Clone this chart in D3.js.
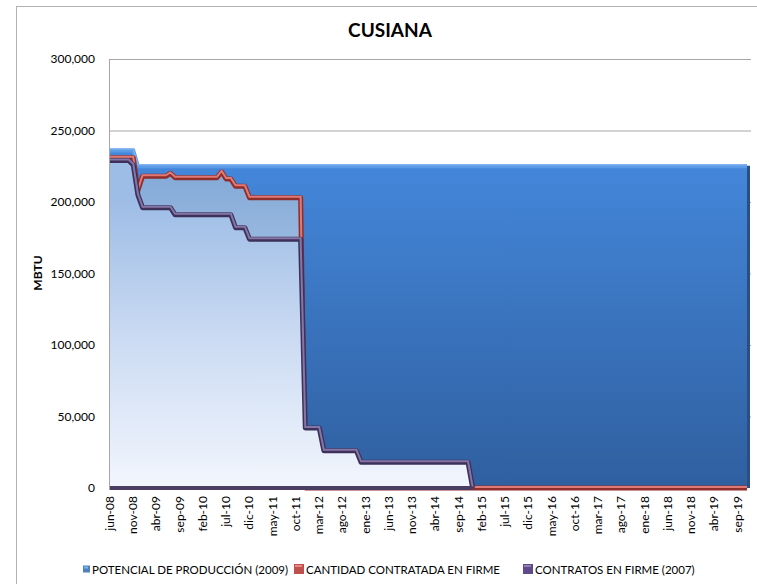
<!DOCTYPE html>
<html>
<head>
<meta charset="utf-8">
<script src="https://cdn.jsdelivr.net/npm/d3@7"></script>
<style>
  body { margin: 0; background: #fff; }
  text { font-family: Lato, "Open Sans", sans-serif; fill: #000; }
</style>
</head>
<body>
<div id="chart"></div>
<script>
// month abbreviations used for the category axis (jun-08 .. nov-19)
const mesesAbrev = ["ene","feb","mar","abr","may","jun","jul","ago","sep","oct","nov","dic"];
const yTicks = [0, 50000, 100000, 150000, 200000, 250000, 300000];

// POTENCIAL DE PRODUCCIÓN (2009), one value per month from jun-08
const potencial = [
  237000,237000,237000,237000,237000,237000,226000,
  226000,226000,226000,226000,226000,226000,226000,226000,226000,226000,226000,226000,
  226000,226000,226000,226000,226000,226000,226000,226000,226000,226000,226000,226000,
  226000,226000,226000,226000,226000,226000,226000,226000,226000,226000,226000,226000,
  226000,226000,226000,226000,226000,226000,226000,226000,226000,226000,226000,226000,
  226000,226000,226000,226000,226000,226000,226000,226000,226000,226000,226000,226000,
  226000,226000,226000,226000,226000,226000,226000,226000,226000,226000,226000,226000,
  226000,226000,226000,226000,226000,226000,226000,226000,226000,226000,226000,226000,
  226000,226000,226000,226000,226000,226000,226000,226000,226000,226000,226000,226000,
  226000,226000,226000,226000,226000,226000,226000,226000,226000,226000,226000,226000,
  226000,226000,226000,226000,226000,226000,226000,226000,226000,226000,226000,226000,
  226000,226000,226000,226000,226000,226000,226000,226000,226000,226000,226000
];

// CANTIDAD CONTRATADA EN FIRME
const contratada = [
  231000,231000,231000,231000,231000,231000,208000,
  218000,218000,218000,218000,218000,218000,220000,217000,217000,217000,217000,217000,
  217000,217000,217000,217000,217000,221000,216000,216000,211000,211000,211000,203000,
  203000,203000,203000,203000,203000,203000,203000,203000,203000,203000,203000,0,
  0,0,0,0,0,0,0,0,0,0,0,0,
  0,0,0,0,0,0,0,0,0,0,0,0,
  0,0,0,0,0,0,0,0,0,0,0,0,
  0,0,0,0,0,0,0,0,0,0,0,0,
  0,0,0,0,0,0,0,0,0,0,0,0,
  0,0,0,0,0,0,0,0,0,0,0,0,
  0,0,0,0,0,0,0,0,0,0,0,0,
  0,0,0,0,0,0,0,0,0,0,0
];

// CONTRATOS EN FIRME (2007)
const contratos = [
  229000,229000,229000,229000,229000,226000,205000,
  196000,196000,196000,196000,196000,196000,196000,191000,191000,191000,191000,191000,
  191000,191000,191000,191000,191000,191000,191000,191000,182000,182000,182000,174000,
  174000,174000,174000,174000,174000,174000,174000,174000,174000,174000,174000,42000,
  42000,42000,42000,26000,26000,26000,26000,26000,26000,26000,26000,18000,
  18000,18000,18000,18000,18000,18000,18000,18000,18000,18000,18000,18000,
  18000,18000,18000,18000,18000,18000,18000,18000,18000,18000,18000,0,
  0,0,0,0,0,0,0,0,0,0,0,0,
  0,0,0,0,0,0,0,0,0,0,0,0,
  0,0,0,0,0,0,0,0,0,0,0,0,
  0,0,0,0,0,0,0,0,0,0,0,0,
  0,0,0,0,0,0,0,0,0,0,0
];

const seriesNames = ["POTENCIAL DE PRODUCCIÓN (2009)", "CANTIDAD CONTRATADA EN FIRME", "CONTRATOS EN FIRME (2007)"];

// categories: jun-08 onwards, one per data point
const categorias = potencial.map((v, i) => {
  const m = (5 + i) % 12, y = 8 + Math.floor((5 + i) / 12);
  return mesesAbrev[m] + "-" + String(y).padStart(2, "0");
});

const W = 757, H = 584;
const plot = {left: 110, right: 747, top: 59, bottom: 488};

const svg = d3.select("#chart").append("svg")
  .attr("width", W).attr("height", H);

// outer chart border
svg.append("rect")
  .attr("x", 16.5).attr("y", 6.5).attr("width", 800).attr("height", 700)
  .attr("fill", "none").attr("stroke", "#b3b3b3");

const x = d3.scalePoint().domain(categorias).range([plot.left, plot.right]);
const y = d3.scaleLinear().domain([0, 300000]).range([plot.bottom, plot.top]);

// gradients
const defs = svg.append("defs");
function vGrad(id, stops, y1, y2) {
  const g = defs.append("linearGradient").attr("id", id)
    .attr("gradientUnits", "userSpaceOnUse")
    .attr("x1", 0).attr("x2", 0).attr("y1", y1).attr("y2", y2);
  stops.forEach(s => g.append("stop").attr("offset", s[0]).attr("stop-color", s[1]));
}
vGrad("gBlue", [[0, "#4487db"], [1, "#2f5f9f"]], y(230000), y(0));
vGrad("gRed", [[0, "#84aad8"], [1, "#dfe9f8"]], y(220000), y(0));
vGrad("gPurple", [[0, "#9ebde6"], [0.5, "#cddcf3"], [1, "#f2f6fd"]], y(200000), y(0));

// gridlines
svg.append("g").selectAll("line").data(yTicks.filter(d => d > 0)).join("line")
  .attr("x1", plot.left).attr("x2", plot.right + 4)
  .attr("y1", d => y(d) + 0.5).attr("y2", d => y(d) + 0.5)
  .attr("stroke", "#a6a6a6");
svg.append("line")
  .attr("x1", plot.left - 0.5).attr("x2", plot.left - 0.5)
  .attr("y1", plot.top).attr("y2", plot.bottom + 2)
  .attr("stroke", "#a6a6a6");

const area = vals => d3.area()
  .x((d, i) => x(categorias[i]))
  .y0(y(0)).y1(d => y(d))(vals);
const line = vals => d3.line()
  .x((d, i) => x(categorias[i]))
  .y(d => y(d))(vals);

// back series: potencial
svg.append("path").attr("d", area(potencial)).attr("fill", "url(#gBlue)");
svg.append("path").attr("d", line(potencial))
  .attr("fill", "none").attr("stroke", "#5b9ae6").attr("stroke-width", 4)
  .attr("transform", "translate(0,1.5)");
svg.append("path").attr("d", line(potencial))
  .attr("fill", "none").attr("stroke", "#7fb2ee").attr("stroke-width", 1.5);
svg.append("line")
  .attr("x1", plot.right + 1.5).attr("x2", plot.right + 1.5)
  .attr("y1", y(potencial[potencial.length - 1]) + 1).attr("y2", y(0))
  .attr("stroke", "#2a4f82").attr("stroke-width", 3);

// middle series: contratada
svg.append("path").attr("d", area(contratada)).attr("fill", "url(#gRed)");
svg.append("path").attr("d", line(contratada))
  .attr("fill", "none").attr("stroke", "#8f2e2b").attr("stroke-width", 5)
  .attr("stroke-linejoin", "round");
svg.append("path").attr("d", line(contratada))
  .attr("fill", "none").attr("stroke", "#e07a76").attr("stroke-width", 2)
  .attr("transform", "translate(0,-1)");

// front series: contratos
const lastPos = contratos.length - 1 - [...contratos].reverse().findIndex(v => v > 0);
const contratosVis = contratos.slice(0, lastPos + 2);
svg.append("path").attr("d", area(contratosVis)).attr("fill", "url(#gPurple)");
svg.append("path").attr("d", line(contratosVis))
  .attr("fill", "none").attr("stroke", "#3e3159").attr("stroke-width", 5)
  .attr("stroke-linejoin", "round");
svg.append("path").attr("d", line(contratosVis))
  .attr("fill", "none").attr("stroke", "#8576a8").attr("stroke-width", 2)
  .attr("transform", "translate(0,-1)");
svg.append("line")
  .attr("x1", plot.left).attr("x2", x(categorias[lastPos + 1]))
  .attr("y1", y(0)).attr("y2", y(0))
  .attr("stroke", "#4a3e62").attr("stroke-width", 4);

// y axis labels
svg.append("g").selectAll("text").data(yTicks).join("text")
  .attr("x", 95).attr("y", d => y(d) + 4)
  .attr("text-anchor", "end").style("font-size", "12px")
  .text(d => d3.format(",")(d));

svg.append("text")
  .attr("transform", "translate(42,273) rotate(-90)")
  .attr("text-anchor", "middle")
  .style("font-size", "12px").style("font-weight", "bold")
  .text("MBTU");

// x axis labels every 5 months
svg.append("g").selectAll("text")
  .data(categorias.filter((d, i) => i % 5 === 0)).join("text")
  .attr("transform", d => `translate(${x(d) + 4},496) rotate(-90)`)
  .attr("text-anchor", "end").style("font-size", "12px")
  .text(d => d);

// title
svg.append("text")
  .attr("x", 390).attr("y", 37).attr("text-anchor", "middle")
  .style("font-size", "19px").style("font-weight", "bold")
  .text("CUSIANA");

// legend
const legendItems = [
  {name: seriesNames[0], x: 80, c1: "#4f81bd", c2: "#7fb0ea", size: 7},
  {name: seriesNames[1], x: 294, c1: "#c0504d", c2: "#e58a86", size: 10},
  {name: seriesNames[2], x: 523, c1: "#5f4b8b", c2: "#8f80b3", size: 10}
];
const lg = svg.append("g").selectAll("g").data(legendItems).join("g")
  .attr("transform", d => `translate(${d.x},570)`);
lg.append("rect")
  .attr("x", d => 10 - d.size).attr("y", d => -d.size / 2 - 1)
  .attr("width", d => d.size).attr("height", d => d.size)
  .attr("fill", d => d.c1);
lg.append("rect")
  .attr("x", d => 10 - d.size + 1).attr("y", d => -d.size / 2)
  .attr("width", d => d.size - 3).attr("height", 2)
  .attr("fill", d => d.c2);
lg.append("text")
  .attr("x", 12).attr("y", 4).style("font-size", "11.5px")
  .text(d => d.name);
</script>
</body>
</html>
